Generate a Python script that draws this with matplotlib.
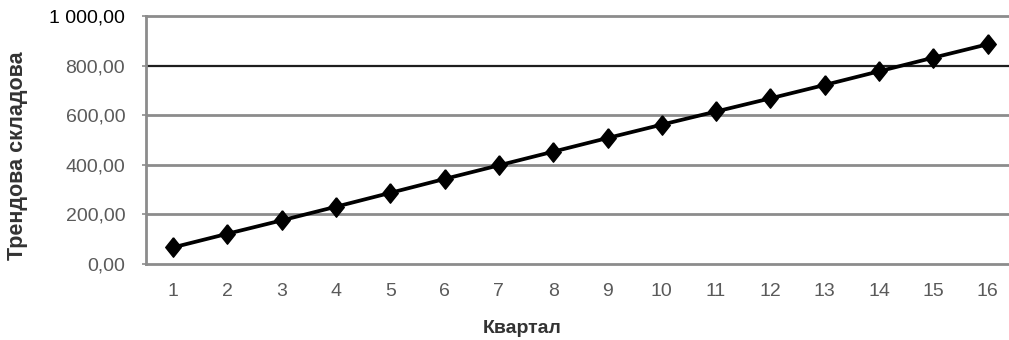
import matplotlib
matplotlib.use("Agg")
import matplotlib.pyplot as plt
from matplotlib.ticker import FuncFormatter, FixedLocator

plt.rcParams['font.family'] = ['Liberation Sans', 'DejaVu Sans']

# Quarterly trend component
quarters = list(range(1, 17))
trend = [67, 122, 176, 231, 287, 343, 398, 453,
         508, 562, 615, 668, 722, 777, 832, 886]
y_ticks = [0, 200, 400, 600, 800, 1000]

x_title = "Квартал"
y_title = "Трендова складова"

GRID = "#8c8c8c"
TEXT = "#5a5a5a"

# slightly tall diamond marker
DIAMOND = [(0, 1), (0.8, 0), (0, -1), (-0.8, 0), (0, 1)]


def ua_number(v, pos=None):
    s = f"{v:,.2f}"
    return s.replace(",", " ").replace(".", ",")


fig = plt.figure(figsize=(10.09, 3.40), dpi=100)
ax = fig.add_axes([0.1447, 0.2235, 0.861, 0.7294])

ax.set_xlim(0.5, 16.5)
ax.set_ylim(0, 1000)

# horizontal grid
for v in y_ticks[1:-1]:
    c = "#1e1e1e" if v == 800 else GRID
    lw = 1.6 if v == 800 else 2.0
    ax.axhline(v, color=c, lw=lw, zorder=1)

ax.plot(quarters, trend, color="black", lw=2.7, marker=DIAMOND,
        markersize=14, markerfacecolor="black", markeredgecolor="black",
        zorder=3)

for side in ("left", "bottom", "top"):
    ax.spines[side].set_color(GRID)
    ax.spines[side].set_linewidth(2.0)
ax.spines["right"].set_visible(False)

ax.yaxis.set_major_locator(FixedLocator(y_ticks))
ax.yaxis.set_major_formatter(FuncFormatter(ua_number))
ax.set_xticks(quarters)
ax.set_xticklabels([str(q) for q in quarters])

ax.tick_params(axis="y", length=3, width=1.2, color=GRID, pad=12,
               labelsize=14, labelcolor=TEXT)
ax.tick_params(axis="x", length=0, pad=14, labelsize=14, labelcolor=TEXT)
ax.get_yticklabels()[-1].set_color("black")

ax.set_xlabel(x_title, fontsize=14, fontweight="bold", color="#333333")
ax.set_ylabel(y_title, fontsize=15.5, fontweight="bold", color="#333333")
ax.yaxis.set_label_coords(-0.1358, 0.435)
ax.xaxis.set_label_coords(0.4327, -0.226)

fig.savefig("out.png", dpi=100, facecolor="white")
